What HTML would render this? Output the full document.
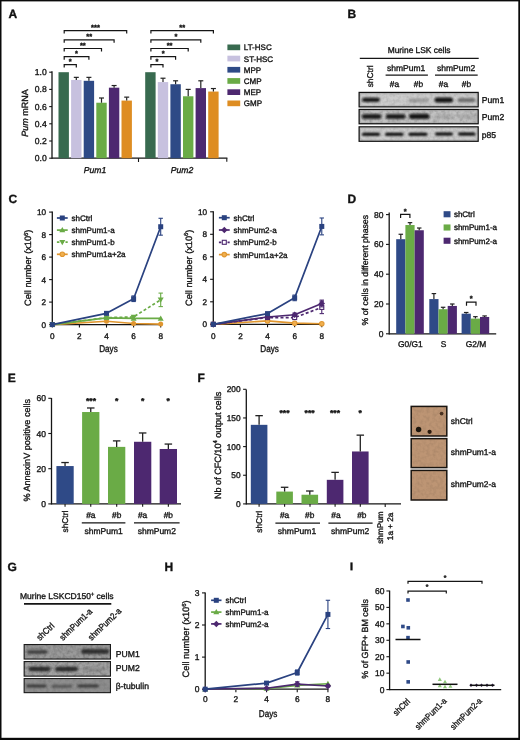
<!DOCTYPE html>
<html><head><meta charset="utf-8"><title>Figure</title>
<style>
html,body{margin:0;padding:0;background:#fff;}
body{width:520px;height:740px;overflow:hidden;}
svg{display:block;font-family:"Liberation Sans", sans-serif;filter:blur(0.35px);}
text{stroke:#151515;stroke-width:0.35px;text-rendering:geometricPrecision;}
</style></head>
<body>
<svg width="520" height="740" viewBox="0 0 520 740">
<defs>
<filter id="blur1" x="-50%" y="-100%" width="200%" height="300%"><feGaussianBlur stdDeviation="1.2"/></filter>
<filter id="blur05" x="-50%" y="-50%" width="200%" height="200%"><feGaussianBlur stdDeviation="0.6"/></filter>
<filter id="grain" x="0" y="0" width="100%" height="100%"><feTurbulence type="fractalNoise" baseFrequency="0.3" numOctaves="2" seed="3"/><feColorMatrix type="matrix" values="0 0 0 0 0  0 0 0 0 0  0 0 0 0 0  -1.6 0 0 0 1.0"/><feGaussianBlur stdDeviation="0.5"/></filter>
</defs>
<rect x="0" y="0" width="520" height="740" fill="#fff"/>
<text x="8.6" y="18.2" font-size="12" text-anchor="start" font-weight="bold" font-style="normal" fill="#111" >A</text>
<line x1="52" y1="71.3" x2="52" y2="158.8" stroke="#151515" stroke-width="1.3" />
<line x1="49.2" y1="158.2" x2="52" y2="158.2" stroke="#151515" stroke-width="1.1" />
<text x="46.8" y="161.2" font-size="8.6" text-anchor="end" font-weight="normal" font-style="normal" fill="#151515" >0.0</text>
<line x1="49.2" y1="141" x2="52" y2="141" stroke="#151515" stroke-width="1.1" />
<text x="46.8" y="144" font-size="8.6" text-anchor="end" font-weight="normal" font-style="normal" fill="#151515" >0.2</text>
<line x1="49.2" y1="123.8" x2="52" y2="123.8" stroke="#151515" stroke-width="1.1" />
<text x="46.8" y="126.8" font-size="8.6" text-anchor="end" font-weight="normal" font-style="normal" fill="#151515" >0.4</text>
<line x1="49.2" y1="106.6" x2="52" y2="106.6" stroke="#151515" stroke-width="1.1" />
<text x="46.8" y="109.6" font-size="8.6" text-anchor="end" font-weight="normal" font-style="normal" fill="#151515" >0.6</text>
<line x1="49.2" y1="89.4" x2="52" y2="89.4" stroke="#151515" stroke-width="1.1" />
<text x="46.8" y="92.4" font-size="8.6" text-anchor="end" font-weight="normal" font-style="normal" fill="#151515" >0.8</text>
<line x1="49.2" y1="72.2" x2="52" y2="72.2" stroke="#151515" stroke-width="1.1" />
<text x="46.8" y="75.2" font-size="8.6" text-anchor="end" font-weight="normal" font-style="normal" fill="#151515" >1.0</text>
<line x1="52" y1="158.2" x2="227.4" y2="158.2" stroke="#151515" stroke-width="1.3" />
<line x1="138.5" y1="158.2" x2="138.5" y2="162" stroke="#151515" stroke-width="1.1" />
<line x1="226.8" y1="158.2" x2="226.8" y2="161.8" stroke="#151515" stroke-width="1.1" />
<text x="0" y="0" font-size="9" text-anchor="middle" fill="#151515" transform="translate(28.24,113) rotate(-90)" ><tspan font-style="italic">Pum</tspan> mRNA</text>
<text x="95" y="172.8" font-size="8.6" text-anchor="middle" font-weight="normal" font-style="italic" fill="#151515" >Pum1</text>
<text x="182" y="172.8" font-size="8.6" text-anchor="middle" font-weight="normal" font-style="italic" fill="#151515" >Pum2</text>
<rect x="58.5" y="72.2" width="10.4" height="86" fill="#386a4f" />
<rect x="71.1" y="79.94" width="10.4" height="78.26" fill="#c7c1df" />
<line x1="76.3" y1="79.94" x2="76.3" y2="77.36" stroke="#222" stroke-width="1.2" />
<line x1="73.8" y1="77.36" x2="78.8" y2="77.36" stroke="#222" stroke-width="1.2" />
<rect x="83.7" y="80.8" width="10.4" height="77.4" fill="#2e4a86" />
<line x1="88.9" y1="80.8" x2="88.9" y2="77.36" stroke="#222" stroke-width="1.2" />
<line x1="86.4" y1="77.36" x2="91.4" y2="77.36" stroke="#222" stroke-width="1.2" />
<rect x="96.3" y="102.73" width="10.4" height="55.47" fill="#6aab46" />
<line x1="101.5" y1="102.73" x2="101.5" y2="98" stroke="#222" stroke-width="1.2" />
<line x1="99" y1="98" x2="104" y2="98" stroke="#222" stroke-width="1.2" />
<rect x="108.9" y="87.68" width="10.4" height="70.52" fill="#4d2870" />
<line x1="114.1" y1="87.68" x2="114.1" y2="85.53" stroke="#222" stroke-width="1.2" />
<line x1="111.6" y1="85.53" x2="116.6" y2="85.53" stroke="#222" stroke-width="1.2" />
<rect x="121.5" y="100.58" width="10.4" height="57.62" fill="#de8d22" />
<line x1="126.7" y1="100.58" x2="126.7" y2="97.14" stroke="#222" stroke-width="1.2" />
<line x1="124.2" y1="97.14" x2="129.2" y2="97.14" stroke="#222" stroke-width="1.2" />
<rect x="145.2" y="72.2" width="10.4" height="86" fill="#386a4f" />
<rect x="157.8" y="82.09" width="10.4" height="76.11" fill="#c7c1df" />
<line x1="163" y1="82.09" x2="163" y2="78.22" stroke="#222" stroke-width="1.2" />
<line x1="160.5" y1="78.22" x2="165.5" y2="78.22" stroke="#222" stroke-width="1.2" />
<rect x="170.4" y="84.24" width="10.4" height="73.96" fill="#2e4a86" />
<line x1="175.6" y1="84.24" x2="175.6" y2="80.8" stroke="#222" stroke-width="1.2" />
<line x1="173.1" y1="80.8" x2="178.1" y2="80.8" stroke="#222" stroke-width="1.2" />
<rect x="183" y="96.28" width="10.4" height="61.92" fill="#6aab46" />
<line x1="188.2" y1="96.28" x2="188.2" y2="89.4" stroke="#222" stroke-width="1.2" />
<line x1="185.7" y1="89.4" x2="190.7" y2="89.4" stroke="#222" stroke-width="1.2" />
<rect x="195.6" y="88.11" width="10.4" height="70.09" fill="#4d2870" />
<line x1="200.8" y1="88.11" x2="200.8" y2="80.8" stroke="#222" stroke-width="1.2" />
<line x1="198.3" y1="80.8" x2="203.3" y2="80.8" stroke="#222" stroke-width="1.2" />
<rect x="208.2" y="91.55" width="10.4" height="66.65" fill="#de8d22" />
<line x1="213.4" y1="91.55" x2="213.4" y2="88.54" stroke="#222" stroke-width="1.2" />
<line x1="210.9" y1="88.54" x2="215.9" y2="88.54" stroke="#222" stroke-width="1.2" />
<polyline points="64.2,67.6 64.2,64.6 76.3,64.6 76.3,67.6" fill="none" stroke="#151515" stroke-width="1.2"/>
<text x="70.25" y="63.8" font-size="7.5" text-anchor="middle" font-weight="bold" font-style="normal" fill="#111" >*</text>
<polyline points="64.2,59.7 64.2,56.7 88.9,56.7 88.9,59.7" fill="none" stroke="#151515" stroke-width="1.2"/>
<text x="76.55" y="55.9" font-size="7.5" text-anchor="middle" font-weight="bold" font-style="normal" fill="#111" >*</text>
<polyline points="64.2,51.5 64.2,48.5 101.5,48.5 101.5,51.5" fill="none" stroke="#151515" stroke-width="1.2"/>
<text x="82.85" y="47.7" font-size="7.5" text-anchor="middle" font-weight="bold" font-style="normal" fill="#111" >**</text>
<polyline points="64.2,42.8 64.2,39.8 114.1,39.8 114.1,42.8" fill="none" stroke="#151515" stroke-width="1.2"/>
<text x="89.15" y="39" font-size="7.5" text-anchor="middle" font-weight="bold" font-style="normal" fill="#111" >**</text>
<polyline points="64.2,33.6 64.2,30.6 126.7,30.6 126.7,33.6" fill="none" stroke="#151515" stroke-width="1.2"/>
<text x="95.45" y="29.8" font-size="7.5" text-anchor="middle" font-weight="bold" font-style="normal" fill="#111" >***</text>
<polyline points="150.9,67.6 150.9,64.6 163,64.6 163,67.6" fill="none" stroke="#151515" stroke-width="1.2"/>
<text x="156.95" y="63.8" font-size="7.5" text-anchor="middle" font-weight="bold" font-style="normal" fill="#111" >*</text>
<polyline points="150.9,59.7 150.9,56.7 175.6,56.7 175.6,59.7" fill="none" stroke="#151515" stroke-width="1.2"/>
<text x="163.25" y="55.9" font-size="7.5" text-anchor="middle" font-weight="bold" font-style="normal" fill="#111" >*</text>
<polyline points="150.9,51.5 150.9,48.5 188.2,48.5 188.2,51.5" fill="none" stroke="#151515" stroke-width="1.2"/>
<text x="169.55" y="47.7" font-size="7.5" text-anchor="middle" font-weight="bold" font-style="normal" fill="#111" >**</text>
<polyline points="150.9,42.8 150.9,39.8 200.8,39.8 200.8,42.8" fill="none" stroke="#151515" stroke-width="1.2"/>
<text x="175.85" y="39" font-size="7.5" text-anchor="middle" font-weight="bold" font-style="normal" fill="#111" >*</text>
<polyline points="150.9,33.6 150.9,30.6 213.4,30.6 213.4,33.6" fill="none" stroke="#151515" stroke-width="1.2"/>
<text x="182.15" y="29.8" font-size="7.5" text-anchor="middle" font-weight="bold" font-style="normal" fill="#111" >**</text>
<rect x="227.4" y="44.5" width="12.8" height="5.7" fill="#386a4f" />
<text x="243.8" y="50.4" font-size="8" text-anchor="start" font-weight="normal" font-style="normal" fill="#151515" >LT-HSC</text>
<rect x="227.4" y="55.7" width="12.8" height="5.7" fill="#c7c1df" />
<text x="243.8" y="61.6" font-size="8" text-anchor="start" font-weight="normal" font-style="normal" fill="#151515" >ST-HSC</text>
<rect x="227.4" y="66.9" width="12.8" height="5.7" fill="#2e4a86" />
<text x="243.8" y="72.8" font-size="8" text-anchor="start" font-weight="normal" font-style="normal" fill="#151515" >MPP</text>
<rect x="227.4" y="78.1" width="12.8" height="5.7" fill="#6aab46" />
<text x="243.8" y="84" font-size="8" text-anchor="start" font-weight="normal" font-style="normal" fill="#151515" >CMP</text>
<rect x="227.4" y="89.3" width="12.8" height="5.7" fill="#4d2870" />
<text x="243.8" y="95.2" font-size="8" text-anchor="start" font-weight="normal" font-style="normal" fill="#151515" >MEP</text>
<rect x="227.4" y="100.5" width="12.8" height="5.7" fill="#de8d22" />
<text x="243.8" y="106.4" font-size="8" text-anchor="start" font-weight="normal" font-style="normal" fill="#151515" >GMP</text>
<text x="347.4" y="17.8" font-size="12" text-anchor="start" font-weight="bold" font-style="normal" fill="#111" >B</text>
<text x="387.7" y="53.4" font-size="8.4" text-anchor="start" font-weight="normal" font-style="normal" fill="#151515" >Murine LSK cells</text>
<line x1="359.8" y1="58.3" x2="478.7" y2="58.3" stroke="#151515" stroke-width="1.3" />
<text x="406.2" y="70.8" font-size="8.5" text-anchor="middle" font-weight="normal" font-style="normal" fill="#151515" >shmPum1</text>
<line x1="385.6" y1="75.2" x2="427.9" y2="75.2" stroke="#151515" stroke-width="1.3" />
<text x="456.1" y="70.8" font-size="8.5" text-anchor="middle" font-weight="normal" font-style="normal" fill="#151515" >shmPum2</text>
<line x1="435" y1="75.2" x2="477.7" y2="75.2" stroke="#151515" stroke-width="1.3" />
<text x="394.5" y="87.2" font-size="8.4" text-anchor="middle" font-weight="normal" font-style="normal" fill="#151515" >#a</text>
<text x="418.5" y="87.2" font-size="8.4" text-anchor="middle" font-weight="normal" font-style="normal" fill="#151515" >#b</text>
<text x="443.5" y="87.2" font-size="8.4" text-anchor="middle" font-weight="normal" font-style="normal" fill="#151515" >#a</text>
<text x="466.5" y="87.2" font-size="8.4" text-anchor="middle" font-weight="normal" font-style="normal" fill="#151515" >#b</text>
<text x="0" y="0" font-size="8.4" text-anchor="middle" fill="#151515" transform="translate(373.42,76.4) rotate(-90)" >shCtrl</text>
<rect x="359.15" y="92.45" width="119" height="14.4" fill="#cdcdcd" stroke="#111" stroke-width="1.3"/>
<rect x="359.8" y="93.1" width="117.7" height="13.1" fill="#000" filter="url(#grain)" opacity="0.14"/>
<rect x="360.4" y="93.7" width="116.5" height="11.9" fill="none" stroke="#a5a5a5" stroke-width="1.2" opacity="0.5"/>
<rect x="362" y="97.7" width="18" height="4.2" rx="2.1" fill="#0d0d0d" opacity="0.95" filter="url(#blur1)"/>
<rect x="408.5" y="98.4" width="20.5" height="4" rx="2" fill="#6a6a6a" opacity="0.5" filter="url(#blur1)"/>
<rect x="434.5" y="97.5" width="18.5" height="5" rx="2.5" fill="#0a0a0a" opacity="0.97" filter="url(#blur1)"/>
<rect x="457.5" y="98.1" width="18" height="4.2" rx="2.1" fill="#404040" opacity="0.65" filter="url(#blur1)"/>
<rect x="359.15" y="109.45" width="119" height="14.3" fill="#c3c3c3" stroke="#111" stroke-width="1.3"/>
<rect x="359.8" y="110.1" width="117.7" height="13" fill="#000" filter="url(#grain)" opacity="0.22"/>
<rect x="360.4" y="110.7" width="116.5" height="11.8" fill="none" stroke="#a0a0a0" stroke-width="1.2" opacity="0.5"/>
<rect x="361.8" y="114" width="19.7" height="5" rx="2.5" fill="#0d0d0d" opacity="0.9" filter="url(#blur1)"/>
<rect x="385.8" y="114" width="19.7" height="5" rx="2.5" fill="#0d0d0d" opacity="0.9" filter="url(#blur1)"/>
<rect x="409" y="113.7" width="20.5" height="5.2" rx="2.6" fill="#0a0a0a" opacity="0.95" filter="url(#blur1)"/>
<rect x="434" y="114.1" width="19" height="5" rx="2.5" fill="#8a8a8a" opacity="0.35" filter="url(#blur1)"/>
<rect x="457" y="114.1" width="19" height="5" rx="2.5" fill="#8a8a8a" opacity="0.35" filter="url(#blur1)"/>
<rect x="359.15" y="126.85" width="119" height="14.4" fill="#cbcbcb" stroke="#111" stroke-width="1.3"/>
<rect x="359.8" y="127.5" width="117.7" height="13.1" fill="#000" filter="url(#grain)" opacity="0.14"/>
<rect x="360.4" y="128.1" width="116.5" height="11.9" fill="none" stroke="#a5a5a5" stroke-width="1.2" opacity="0.5"/>
<rect x="362" y="132.7" width="18" height="3" rx="1.5" fill="#000" opacity="1" filter="url(#blur1)"/>
<rect x="385" y="132.7" width="18.5" height="3" rx="1.5" fill="#000" opacity="1" filter="url(#blur1)"/>
<rect x="408.5" y="132.7" width="19" height="3" rx="1.5" fill="#000" opacity="1" filter="url(#blur1)"/>
<rect x="435" y="132.4" width="18" height="3.2" rx="1.6" fill="#000" opacity="1" filter="url(#blur1)"/>
<rect x="458" y="132.5" width="17.5" height="3" rx="1.5" fill="#000" opacity="1" filter="url(#blur1)"/>
<text x="481.8" y="103" font-size="8.6" text-anchor="start" font-weight="normal" font-style="normal" fill="#151515" >Pum1</text>
<text x="481.8" y="120.2" font-size="8.6" text-anchor="start" font-weight="normal" font-style="normal" fill="#151515" >Pum2</text>
<text x="481.8" y="138" font-size="8.6" text-anchor="start" font-weight="normal" font-style="normal" fill="#151515" >p85</text>
<text x="8.4" y="202.6" font-size="12" text-anchor="start" font-weight="bold" font-style="normal" fill="#111" >C</text>
<line x1="52.3" y1="211.5" x2="52.3" y2="325.2" stroke="#151515" stroke-width="1.3" />
<line x1="49.1" y1="324.6" x2="52.3" y2="324.6" stroke="#151515" stroke-width="1.1" />
<text x="46" y="327.5" font-size="8.2" text-anchor="end" font-weight="normal" font-style="normal" fill="#151515" >0</text>
<line x1="49.1" y1="302.1" x2="52.3" y2="302.1" stroke="#151515" stroke-width="1.1" />
<text x="46" y="305" font-size="8.2" text-anchor="end" font-weight="normal" font-style="normal" fill="#151515" >2</text>
<line x1="49.1" y1="279.6" x2="52.3" y2="279.6" stroke="#151515" stroke-width="1.1" />
<text x="46" y="282.5" font-size="8.2" text-anchor="end" font-weight="normal" font-style="normal" fill="#151515" >4</text>
<line x1="49.1" y1="257.1" x2="52.3" y2="257.1" stroke="#151515" stroke-width="1.1" />
<text x="46" y="260" font-size="8.2" text-anchor="end" font-weight="normal" font-style="normal" fill="#151515" >6</text>
<line x1="49.1" y1="234.6" x2="52.3" y2="234.6" stroke="#151515" stroke-width="1.1" />
<text x="46" y="237.5" font-size="8.2" text-anchor="end" font-weight="normal" font-style="normal" fill="#151515" >8</text>
<line x1="49.1" y1="212.1" x2="52.3" y2="212.1" stroke="#151515" stroke-width="1.1" />
<text x="46" y="215" font-size="8.2" text-anchor="end" font-weight="normal" font-style="normal" fill="#151515" >10</text>
<line x1="52.3" y1="324.6" x2="161.3" y2="324.6" stroke="#151515" stroke-width="1.3" />
<line x1="52.3" y1="324.6" x2="52.3" y2="327.6" stroke="#151515" stroke-width="1.1" />
<text x="52.3" y="338.9" font-size="8.2" text-anchor="middle" font-weight="normal" font-style="normal" fill="#151515" >0</text>
<line x1="79.4" y1="324.6" x2="79.4" y2="327.6" stroke="#151515" stroke-width="1.1" />
<text x="79.4" y="338.9" font-size="8.2" text-anchor="middle" font-weight="normal" font-style="normal" fill="#151515" >2</text>
<line x1="106.5" y1="324.6" x2="106.5" y2="327.6" stroke="#151515" stroke-width="1.1" />
<text x="106.5" y="338.9" font-size="8.2" text-anchor="middle" font-weight="normal" font-style="normal" fill="#151515" >4</text>
<line x1="133.6" y1="324.6" x2="133.6" y2="327.6" stroke="#151515" stroke-width="1.1" />
<text x="133.6" y="338.9" font-size="8.2" text-anchor="middle" font-weight="normal" font-style="normal" fill="#151515" >6</text>
<line x1="160.7" y1="324.6" x2="160.7" y2="327.6" stroke="#151515" stroke-width="1.1" />
<text x="160.7" y="338.9" font-size="8.2" text-anchor="middle" font-weight="normal" font-style="normal" fill="#151515" >8</text>
<text x="108.5" y="352" font-size="9.8" text-anchor="middle" font-weight="normal" font-style="normal" fill="#151515" textLength="18.6" lengthAdjust="spacingAndGlyphs">Days</text>
<text x="0" y="0" font-size="9.2" text-anchor="middle" fill="#151515" transform="translate(31.31,267.8) rotate(-90)" >Cell number (x10<tspan font-size="5.9" dy="-3.4">6</tspan><tspan dy="3.4">)</tspan></text>
<polyline points="52.3,324.6 106.5,321.23 133.6,323.48 160.7,324.04" fill="none" stroke="#e0962f" stroke-width="1.7" stroke-linejoin="round" />
<circle cx="52.3" cy="324.6" r="2.5" fill="#e0962f"/>
<circle cx="106.5" cy="321.23" r="2.5" fill="#e0962f"/>
<circle cx="133.6" cy="323.48" r="2.5" fill="#e0962f"/>
<circle cx="160.7" cy="324.04" r="2.5" fill="#e0962f"/>
<polyline points="52.3,324.6 106.5,317.85 133.6,318.41 160.7,318.41" fill="none" stroke="#6aab46" stroke-width="1.7" stroke-linejoin="round" />
<polygon points="52.3,321.6 49.3,326.85 55.3,326.85" fill="#6aab46"/>
<polygon points="106.5,314.85 103.5,320.1 109.5,320.1" fill="#6aab46"/>
<polygon points="133.6,315.41 130.6,320.66 136.6,320.66" fill="#6aab46"/>
<polygon points="160.7,315.41 157.7,320.66 163.7,320.66" fill="#6aab46"/>
<polyline points="52.3,324.6 106.5,317.62 133.6,316.95 160.7,299.85" fill="none" stroke="#6aab46" stroke-width="1.7" stroke-linejoin="round" stroke-dasharray="3,2.2"/>
<polygon points="52.3,327.6 49.3,322.35 55.3,322.35" fill="#6aab46"/>
<polygon points="106.5,320.62 103.5,315.38 109.5,315.38" fill="#6aab46"/>
<polygon points="133.6,319.95 130.6,314.7 136.6,314.7" fill="#6aab46"/>
<line x1="160.7" y1="293.1" x2="160.7" y2="306.6" stroke="#6aab46" stroke-width="1.1" />
<line x1="158.5" y1="293.1" x2="162.9" y2="293.1" stroke="#6aab46" stroke-width="1.1" />
<line x1="158.5" y1="306.6" x2="162.9" y2="306.6" stroke="#6aab46" stroke-width="1.1" />
<polygon points="160.7,302.85 157.7,297.6 163.7,297.6" fill="#6aab46"/>
<polyline points="52.3,324.6 106.5,313.35 133.6,298.73 160.7,226.73" fill="none" stroke="#2a4280" stroke-width="1.7" stroke-linejoin="round" />
<rect x="49.8" y="322.1" width="5" height="5" fill="#2a4280" />
<line x1="106.5" y1="312.23" x2="106.5" y2="314.48" stroke="#2a4280" stroke-width="1.1" />
<line x1="104.3" y1="312.23" x2="108.7" y2="312.23" stroke="#2a4280" stroke-width="1.1" />
<line x1="104.3" y1="314.48" x2="108.7" y2="314.48" stroke="#2a4280" stroke-width="1.1" />
<rect x="104" y="310.85" width="5" height="5" fill="#2a4280" />
<line x1="133.6" y1="295.91" x2="133.6" y2="301.54" stroke="#2a4280" stroke-width="1.1" />
<line x1="131.4" y1="295.91" x2="135.8" y2="295.91" stroke="#2a4280" stroke-width="1.1" />
<line x1="131.4" y1="301.54" x2="135.8" y2="301.54" stroke="#2a4280" stroke-width="1.1" />
<rect x="131.1" y="296.23" width="5" height="5" fill="#2a4280" />
<line x1="160.7" y1="218.29" x2="160.7" y2="235.16" stroke="#2a4280" stroke-width="1.1" />
<line x1="158.5" y1="218.29" x2="162.9" y2="218.29" stroke="#2a4280" stroke-width="1.1" />
<line x1="158.5" y1="235.16" x2="162.9" y2="235.16" stroke="#2a4280" stroke-width="1.1" />
<rect x="158.2" y="224.23" width="5" height="5" fill="#2a4280" />
<line x1="56.9" y1="218" x2="67.7" y2="218" stroke="#2a4280" stroke-width="1.7" />
<rect x="59.8" y="215.5" width="5" height="5" fill="#2a4280" />
<text x="71.5" y="220.9" font-size="8" text-anchor="start" font-weight="normal" font-style="normal" fill="#151515" >shCtrl</text>
<line x1="56.9" y1="230.1" x2="67.7" y2="230.1" stroke="#6aab46" stroke-width="1.7" />
<polygon points="62.3,227.1 59.3,232.35 65.3,232.35" fill="#6aab46"/>
<text x="71.5" y="233" font-size="8" text-anchor="start" font-weight="normal" font-style="normal" fill="#151515" >shmPum1-a</text>
<line x1="56.9" y1="242.2" x2="67.7" y2="242.2" stroke="#6aab46" stroke-width="1.7" stroke-dasharray="2.5,1.8"/>
<polygon points="62.3,245.2 59.3,239.95 65.3,239.95" fill="#6aab46"/>
<text x="71.5" y="245.1" font-size="8" text-anchor="start" font-weight="normal" font-style="normal" fill="#151515" >shmPum1-b</text>
<line x1="56.9" y1="254.3" x2="67.7" y2="254.3" stroke="#e0962f" stroke-width="1.7" />
<circle cx="62.3" cy="254.3" r="2.25" fill="#f0b050" stroke="#e0962f" stroke-width="1.1"/>
<text x="71.5" y="257.2" font-size="8" text-anchor="start" font-weight="normal" font-style="normal" fill="#151515" >shmPum1a+2a</text>
<line x1="213.3" y1="211.2" x2="213.3" y2="324.9" stroke="#151515" stroke-width="1.3" />
<line x1="210.1" y1="324.3" x2="213.3" y2="324.3" stroke="#151515" stroke-width="1.1" />
<text x="207" y="327.2" font-size="8.2" text-anchor="end" font-weight="normal" font-style="normal" fill="#151515" >0</text>
<line x1="210.1" y1="301.8" x2="213.3" y2="301.8" stroke="#151515" stroke-width="1.1" />
<text x="207" y="304.7" font-size="8.2" text-anchor="end" font-weight="normal" font-style="normal" fill="#151515" >2</text>
<line x1="210.1" y1="279.3" x2="213.3" y2="279.3" stroke="#151515" stroke-width="1.1" />
<text x="207" y="282.2" font-size="8.2" text-anchor="end" font-weight="normal" font-style="normal" fill="#151515" >4</text>
<line x1="210.1" y1="256.8" x2="213.3" y2="256.8" stroke="#151515" stroke-width="1.1" />
<text x="207" y="259.7" font-size="8.2" text-anchor="end" font-weight="normal" font-style="normal" fill="#151515" >6</text>
<line x1="210.1" y1="234.3" x2="213.3" y2="234.3" stroke="#151515" stroke-width="1.1" />
<text x="207" y="237.2" font-size="8.2" text-anchor="end" font-weight="normal" font-style="normal" fill="#151515" >8</text>
<line x1="210.1" y1="211.8" x2="213.3" y2="211.8" stroke="#151515" stroke-width="1.1" />
<text x="207" y="214.7" font-size="8.2" text-anchor="end" font-weight="normal" font-style="normal" fill="#151515" >10</text>
<line x1="213.3" y1="324.3" x2="322.38" y2="324.3" stroke="#151515" stroke-width="1.3" />
<line x1="213.3" y1="324.3" x2="213.3" y2="327.3" stroke="#151515" stroke-width="1.1" />
<text x="213.3" y="338.6" font-size="8.2" text-anchor="middle" font-weight="normal" font-style="normal" fill="#151515" >0</text>
<line x1="240.42" y1="324.3" x2="240.42" y2="327.3" stroke="#151515" stroke-width="1.1" />
<text x="240.42" y="338.6" font-size="8.2" text-anchor="middle" font-weight="normal" font-style="normal" fill="#151515" >2</text>
<line x1="267.54" y1="324.3" x2="267.54" y2="327.3" stroke="#151515" stroke-width="1.1" />
<text x="267.54" y="338.6" font-size="8.2" text-anchor="middle" font-weight="normal" font-style="normal" fill="#151515" >4</text>
<line x1="294.66" y1="324.3" x2="294.66" y2="327.3" stroke="#151515" stroke-width="1.1" />
<text x="294.66" y="338.6" font-size="8.2" text-anchor="middle" font-weight="normal" font-style="normal" fill="#151515" >6</text>
<line x1="321.78" y1="324.3" x2="321.78" y2="327.3" stroke="#151515" stroke-width="1.1" />
<text x="321.78" y="338.6" font-size="8.2" text-anchor="middle" font-weight="normal" font-style="normal" fill="#151515" >8</text>
<text x="269.54" y="352" font-size="9.8" text-anchor="middle" font-weight="normal" font-style="normal" fill="#151515" textLength="18.6" lengthAdjust="spacingAndGlyphs">Days</text>
<text x="0" y="0" font-size="9.2" text-anchor="middle" fill="#151515" transform="translate(191.61,267.8) rotate(-90)" >Cell number (x10<tspan font-size="5.9" dy="-3.4">6</tspan><tspan dy="3.4">)</tspan></text>
<polyline points="213.3,324.3 267.54,320.93 294.66,323.18 321.78,323.74" fill="none" stroke="#e0962f" stroke-width="1.7" stroke-linejoin="round" />
<circle cx="213.3" cy="324.3" r="2.25" fill="#f0b050" stroke="#e0962f" stroke-width="1.1"/>
<circle cx="267.54" cy="320.93" r="2.25" fill="#f0b050" stroke="#e0962f" stroke-width="1.1"/>
<circle cx="294.66" cy="323.18" r="2.25" fill="#f0b050" stroke="#e0962f" stroke-width="1.1"/>
<circle cx="321.78" cy="323.74" r="2.25" fill="#f0b050" stroke="#e0962f" stroke-width="1.1"/>
<polyline points="213.3,324.3 267.54,317.55 294.66,317.55 321.78,307.43" fill="none" stroke="#4d2870" stroke-width="1.7" stroke-linejoin="round" stroke-dasharray="3,2.2"/>
<rect x="211.3" y="322.3" width="4" height="4" fill="white" stroke="#4d2870" stroke-width="1.1"/>
<rect x="265.54" y="315.55" width="4" height="4" fill="white" stroke="#4d2870" stroke-width="1.1"/>
<rect x="292.66" y="315.55" width="4" height="4" fill="white" stroke="#4d2870" stroke-width="1.1"/>
<line x1="321.78" y1="301.24" x2="321.78" y2="313.61" stroke="#4d2870" stroke-width="1.1" />
<line x1="319.58" y1="301.24" x2="323.98" y2="301.24" stroke="#4d2870" stroke-width="1.1" />
<line x1="319.58" y1="313.61" x2="323.98" y2="313.61" stroke="#4d2870" stroke-width="1.1" />
<rect x="319.78" y="305.43" width="4" height="4" fill="white" stroke="#4d2870" stroke-width="1.1"/>
<polyline points="213.3,324.3 267.54,316.99 294.66,314.74 321.78,303.49" fill="none" stroke="#4d2870" stroke-width="1.7" stroke-linejoin="round" />
<polygon points="213.3,321.05 216.55,324.3 213.3,327.55 210.05,324.3" fill="#4d2870"/>
<polygon points="267.54,313.74 270.79,316.99 267.54,320.24 264.29,316.99" fill="#4d2870"/>
<line x1="294.66" y1="313.05" x2="294.66" y2="316.43" stroke="#4d2870" stroke-width="1.1" />
<line x1="292.46" y1="313.05" x2="296.86" y2="313.05" stroke="#4d2870" stroke-width="1.1" />
<line x1="292.46" y1="316.43" x2="296.86" y2="316.43" stroke="#4d2870" stroke-width="1.1" />
<polygon points="294.66,311.49 297.91,314.74 294.66,317.99 291.41,314.74" fill="#4d2870"/>
<line x1="321.78" y1="300.11" x2="321.78" y2="306.86" stroke="#4d2870" stroke-width="1.1" />
<line x1="319.58" y1="300.11" x2="323.98" y2="300.11" stroke="#4d2870" stroke-width="1.1" />
<line x1="319.58" y1="306.86" x2="323.98" y2="306.86" stroke="#4d2870" stroke-width="1.1" />
<polygon points="321.78,300.24 325.03,303.49 321.78,306.74 318.53,303.49" fill="#4d2870"/>
<polyline points="213.3,324.3 267.54,313.61 294.66,297.86 321.78,226.43" fill="none" stroke="#2a4280" stroke-width="1.7" stroke-linejoin="round" />
<rect x="210.8" y="321.8" width="5" height="5" fill="#2a4280" />
<line x1="267.54" y1="312.49" x2="267.54" y2="314.74" stroke="#2a4280" stroke-width="1.1" />
<line x1="265.34" y1="312.49" x2="269.74" y2="312.49" stroke="#2a4280" stroke-width="1.1" />
<line x1="265.34" y1="314.74" x2="269.74" y2="314.74" stroke="#2a4280" stroke-width="1.1" />
<rect x="265.04" y="311.11" width="5" height="5" fill="#2a4280" />
<line x1="294.66" y1="295.05" x2="294.66" y2="300.68" stroke="#2a4280" stroke-width="1.1" />
<line x1="292.46" y1="295.05" x2="296.86" y2="295.05" stroke="#2a4280" stroke-width="1.1" />
<line x1="292.46" y1="300.68" x2="296.86" y2="300.68" stroke="#2a4280" stroke-width="1.1" />
<rect x="292.16" y="295.36" width="5" height="5" fill="#2a4280" />
<line x1="321.78" y1="217.99" x2="321.78" y2="234.86" stroke="#2a4280" stroke-width="1.1" />
<line x1="319.58" y1="217.99" x2="323.98" y2="217.99" stroke="#2a4280" stroke-width="1.1" />
<line x1="319.58" y1="234.86" x2="323.98" y2="234.86" stroke="#2a4280" stroke-width="1.1" />
<rect x="319.28" y="223.93" width="5" height="5" fill="#2a4280" />
<line x1="218.9" y1="217.7" x2="229.7" y2="217.7" stroke="#2a4280" stroke-width="1.7" />
<rect x="221.8" y="215.2" width="5" height="5" fill="#2a4280" />
<text x="233.5" y="220.6" font-size="8" text-anchor="start" font-weight="normal" font-style="normal" fill="#151515" >shCtrl</text>
<line x1="218.9" y1="230" x2="229.7" y2="230" stroke="#4d2870" stroke-width="1.7" />
<polygon points="224.3,226.75 227.55,230 224.3,233.25 221.05,230" fill="#4d2870"/>
<text x="233.5" y="232.9" font-size="8" text-anchor="start" font-weight="normal" font-style="normal" fill="#151515" >shmPum2-a</text>
<line x1="218.9" y1="242.3" x2="229.7" y2="242.3" stroke="#4d2870" stroke-width="1.7" stroke-dasharray="2.5,1.8"/>
<rect x="222.3" y="240.3" width="4" height="4" fill="white" stroke="#4d2870" stroke-width="1.1"/>
<text x="233.5" y="245.2" font-size="8" text-anchor="start" font-weight="normal" font-style="normal" fill="#151515" >shmPum2-b</text>
<line x1="218.9" y1="254.6" x2="229.7" y2="254.6" stroke="#e0962f" stroke-width="1.7" />
<circle cx="224.3" cy="254.6" r="2.25" fill="#f0b050" stroke="#e0962f" stroke-width="1.1"/>
<text x="233.5" y="257.5" font-size="8" text-anchor="start" font-weight="normal" font-style="normal" fill="#151515" >shmPum1a+2a</text>
<text x="347.4" y="202.8" font-size="12" text-anchor="start" font-weight="bold" font-style="normal" fill="#111" >D</text>
<line x1="389.2" y1="212.6" x2="389.2" y2="334.4" stroke="#151515" stroke-width="1.3" />
<line x1="386" y1="333.8" x2="389.2" y2="333.8" stroke="#151515" stroke-width="1.1" />
<text x="383.5" y="336.8" font-size="8.5" text-anchor="end" font-weight="normal" font-style="normal" fill="#151515" >0</text>
<line x1="386" y1="304" x2="389.2" y2="304" stroke="#151515" stroke-width="1.1" />
<text x="383.5" y="307" font-size="8.5" text-anchor="end" font-weight="normal" font-style="normal" fill="#151515" >20</text>
<line x1="386" y1="274.2" x2="389.2" y2="274.2" stroke="#151515" stroke-width="1.1" />
<text x="383.5" y="277.2" font-size="8.5" text-anchor="end" font-weight="normal" font-style="normal" fill="#151515" >40</text>
<line x1="386" y1="244.4" x2="389.2" y2="244.4" stroke="#151515" stroke-width="1.1" />
<text x="383.5" y="247.4" font-size="8.5" text-anchor="end" font-weight="normal" font-style="normal" fill="#151515" >60</text>
<line x1="386" y1="214.6" x2="389.2" y2="214.6" stroke="#151515" stroke-width="1.1" />
<text x="383.5" y="217.6" font-size="8.5" text-anchor="end" font-weight="normal" font-style="normal" fill="#151515" >80</text>
<line x1="389.2" y1="333.8" x2="496.2" y2="333.8" stroke="#151515" stroke-width="1.3" />
<text x="0" y="0" font-size="8.7" text-anchor="middle" fill="#151515" transform="translate(367.93,270.2) rotate(-90)" >% of cells in different phases</text>
<rect x="396.2" y="239.19" width="9.2" height="94.62" fill="#2f4a87" />
<line x1="400.8" y1="239.19" x2="400.8" y2="234.27" stroke="#222" stroke-width="1.2" />
<line x1="398.55" y1="234.27" x2="403.05" y2="234.27" stroke="#222" stroke-width="1.2" />
<rect x="405.4" y="225.03" width="9.2" height="108.77" fill="#6aab46" />
<line x1="410" y1="225.03" x2="410" y2="222.65" stroke="#222" stroke-width="1.2" />
<line x1="407.75" y1="222.65" x2="412.25" y2="222.65" stroke="#222" stroke-width="1.2" />
<rect x="414.6" y="230.25" width="9.2" height="103.56" fill="#4d2870" />
<line x1="419.2" y1="230.25" x2="419.2" y2="228.01" stroke="#222" stroke-width="1.2" />
<line x1="416.95" y1="228.01" x2="421.45" y2="228.01" stroke="#222" stroke-width="1.2" />
<rect x="429.3" y="299.08" width="9.2" height="34.72" fill="#2f4a87" />
<line x1="433.9" y1="299.08" x2="433.9" y2="293.57" stroke="#222" stroke-width="1.2" />
<line x1="431.65" y1="293.57" x2="436.15" y2="293.57" stroke="#222" stroke-width="1.2" />
<rect x="438.5" y="309.22" width="9.2" height="24.58" fill="#6aab46" />
<line x1="443.1" y1="309.22" x2="443.1" y2="307.28" stroke="#222" stroke-width="1.2" />
<line x1="440.85" y1="307.28" x2="445.35" y2="307.28" stroke="#222" stroke-width="1.2" />
<rect x="447.7" y="305.94" width="9.2" height="27.86" fill="#4d2870" />
<line x1="452.3" y1="305.94" x2="452.3" y2="304" stroke="#222" stroke-width="1.2" />
<line x1="450.05" y1="304" x2="454.55" y2="304" stroke="#222" stroke-width="1.2" />
<rect x="461.6" y="313.69" width="9.2" height="20.12" fill="#2f4a87" />
<line x1="466.2" y1="313.69" x2="466.2" y2="312.49" stroke="#222" stroke-width="1.2" />
<line x1="463.95" y1="312.49" x2="468.45" y2="312.49" stroke="#222" stroke-width="1.2" />
<rect x="470.8" y="318.6" width="9.2" height="15.2" fill="#6aab46" />
<line x1="475.4" y1="318.6" x2="475.4" y2="316.67" stroke="#222" stroke-width="1.2" />
<line x1="473.15" y1="316.67" x2="477.65" y2="316.67" stroke="#222" stroke-width="1.2" />
<rect x="480" y="316.96" width="9.2" height="16.84" fill="#4d2870" />
<line x1="484.6" y1="316.96" x2="484.6" y2="315.92" stroke="#222" stroke-width="1.2" />
<line x1="482.35" y1="315.92" x2="486.85" y2="315.92" stroke="#222" stroke-width="1.2" />
<text x="410.4" y="346.8" font-size="8.4" text-anchor="middle" font-weight="normal" font-style="normal" fill="#151515" >G0/G1</text>
<text x="443.5" y="346.8" font-size="8.4" text-anchor="middle" font-weight="normal" font-style="normal" fill="#151515" >S</text>
<text x="476" y="346.8" font-size="8.4" text-anchor="middle" font-weight="normal" font-style="normal" fill="#151515" >G2/M</text>
<polyline points="400.6,217.9 400.6,214.4 409.9,214.4 409.9,217.9" fill="none" stroke="#151515" stroke-width="1.2"/>
<text x="405.2" y="213.6" font-size="7.5" text-anchor="middle" font-weight="bold" font-style="normal" fill="#111" >*</text>
<polyline points="466.5,305.7 466.5,302.2 476,302.2 476,305.7" fill="none" stroke="#151515" stroke-width="1.2"/>
<text x="471.3" y="301.4" font-size="7.5" text-anchor="middle" font-weight="bold" font-style="normal" fill="#111" >*</text>
<rect x="443.6" y="211.2" width="6.9" height="6.1" fill="#2f4a87" />
<text x="453.9" y="217.2" font-size="8" text-anchor="start" font-weight="normal" font-style="normal" fill="#151515" >shCtrl</text>
<rect x="443.6" y="224.45" width="6.9" height="6.1" fill="#6aab46" />
<text x="453.9" y="230.45" font-size="8" text-anchor="start" font-weight="normal" font-style="normal" fill="#151515" >shmPum1-a</text>
<rect x="443.6" y="237.7" width="6.9" height="6.1" fill="#4d2870" />
<text x="453.9" y="243.7" font-size="8" text-anchor="start" font-weight="normal" font-style="normal" fill="#151515" >shmPum2-a</text>
<text x="7.8" y="381.8" font-size="12" text-anchor="start" font-weight="bold" font-style="normal" fill="#111" >E</text>
<line x1="51.5" y1="398" x2="51.5" y2="504.5" stroke="#151515" stroke-width="1.3" />
<line x1="48.3" y1="503.9" x2="51.5" y2="503.9" stroke="#151515" stroke-width="1.1" />
<text x="45.9" y="506.9" font-size="8.5" text-anchor="end" font-weight="normal" font-style="normal" fill="#151515" >0</text>
<line x1="48.3" y1="468.7" x2="51.5" y2="468.7" stroke="#151515" stroke-width="1.1" />
<text x="45.9" y="471.7" font-size="8.5" text-anchor="end" font-weight="normal" font-style="normal" fill="#151515" >20</text>
<line x1="48.3" y1="433.5" x2="51.5" y2="433.5" stroke="#151515" stroke-width="1.1" />
<text x="45.9" y="436.5" font-size="8.5" text-anchor="end" font-weight="normal" font-style="normal" fill="#151515" >40</text>
<line x1="48.3" y1="398.3" x2="51.5" y2="398.3" stroke="#151515" stroke-width="1.1" />
<text x="45.9" y="401.3" font-size="8.5" text-anchor="end" font-weight="normal" font-style="normal" fill="#151515" >60</text>
<line x1="51.5" y1="503.9" x2="181" y2="503.9" stroke="#151515" stroke-width="1.3" />
<text x="0" y="0" font-size="9.05" text-anchor="middle" fill="#151515" transform="translate(30.26,450.3) rotate(-90)" >% AnnexinV positive cells</text>
<rect x="56.4" y="466.06" width="17.3" height="37.84" fill="#2f4a87" />
<line x1="65.05" y1="466.06" x2="65.05" y2="462.54" stroke="#222" stroke-width="1.3" />
<line x1="61.3" y1="462.54" x2="68.8" y2="462.54" stroke="#222" stroke-width="1.3" />
<rect x="82.1" y="412.03" width="17.3" height="91.87" fill="#6aab46" />
<line x1="90.75" y1="412.03" x2="90.75" y2="407.98" stroke="#222" stroke-width="1.3" />
<line x1="87" y1="407.98" x2="94.5" y2="407.98" stroke="#222" stroke-width="1.3" />
<rect x="108" y="446.88" width="17.3" height="57.02" fill="#6aab46" />
<line x1="116.65" y1="446.88" x2="116.65" y2="440.89" stroke="#222" stroke-width="1.3" />
<line x1="112.9" y1="440.89" x2="120.4" y2="440.89" stroke="#222" stroke-width="1.3" />
<rect x="134" y="441.77" width="17.3" height="62.13" fill="#4d2870" />
<line x1="142.65" y1="441.77" x2="142.65" y2="432.97" stroke="#222" stroke-width="1.3" />
<line x1="138.9" y1="432.97" x2="146.4" y2="432.97" stroke="#222" stroke-width="1.3" />
<rect x="159.7" y="448.99" width="17.3" height="54.91" fill="#4d2870" />
<line x1="168.35" y1="448.99" x2="168.35" y2="444.06" stroke="#222" stroke-width="1.3" />
<line x1="164.6" y1="444.06" x2="172.1" y2="444.06" stroke="#222" stroke-width="1.3" />
<text x="91" y="403.65" font-size="8.6" text-anchor="middle" font-weight="bold" font-style="normal" fill="#111" >***</text>
<text x="116.7" y="403.65" font-size="8.6" text-anchor="middle" font-weight="bold" font-style="normal" fill="#111" >*</text>
<text x="142.6" y="403.65" font-size="8.6" text-anchor="middle" font-weight="bold" font-style="normal" fill="#111" >*</text>
<text x="168.3" y="403.65" font-size="8.6" text-anchor="middle" font-weight="bold" font-style="normal" fill="#111" >*</text>
<text x="90.8" y="517.9" font-size="8.4" text-anchor="middle" font-weight="normal" font-style="normal" fill="#151515" >#a</text>
<text x="116.7" y="517.9" font-size="8.4" text-anchor="middle" font-weight="normal" font-style="normal" fill="#151515" >#b</text>
<text x="142.6" y="517.9" font-size="8.4" text-anchor="middle" font-weight="normal" font-style="normal" fill="#151515" >#a</text>
<text x="168.3" y="517.9" font-size="8.4" text-anchor="middle" font-weight="normal" font-style="normal" fill="#151515" >#b</text>
<text x="0" y="0" font-size="8.4" text-anchor="middle" fill="#151515" transform="translate(68.02,521.6) rotate(-90)" >shCtrl</text>
<line x1="65.05" y1="503.9" x2="65.05" y2="506.7" stroke="#151515" stroke-width="1.1" />
<line x1="90.75" y1="503.9" x2="90.75" y2="506.7" stroke="#151515" stroke-width="1.1" />
<line x1="116.7" y1="503.9" x2="116.7" y2="506.7" stroke="#151515" stroke-width="1.1" />
<line x1="142.65" y1="503.9" x2="142.65" y2="506.7" stroke="#151515" stroke-width="1.1" />
<line x1="168.35" y1="503.9" x2="168.35" y2="506.7" stroke="#151515" stroke-width="1.1" />
<line x1="81.8" y1="522.8" x2="125.4" y2="522.8" stroke="#151515" stroke-width="1.3" />
<line x1="134" y1="522.8" x2="179.6" y2="522.8" stroke="#151515" stroke-width="1.3" />
<text x="103.6" y="534.3" font-size="8.5" text-anchor="middle" font-weight="normal" font-style="normal" fill="#151515" >shmPum1</text>
<text x="156.8" y="534.3" font-size="8.5" text-anchor="middle" font-weight="normal" font-style="normal" fill="#151515" >shmPum2</text>
<text x="197.6" y="381.9" font-size="12" text-anchor="start" font-weight="bold" font-style="normal" fill="#111" >F</text>
<line x1="246.3" y1="389.5" x2="246.3" y2="504.5" stroke="#151515" stroke-width="1.3" />
<line x1="243.1" y1="503.9" x2="246.3" y2="503.9" stroke="#151515" stroke-width="1.1" />
<text x="240.5" y="506.9" font-size="8.3" text-anchor="end" font-weight="normal" font-style="normal" fill="#151515" >0</text>
<line x1="243.1" y1="475.25" x2="246.3" y2="475.25" stroke="#151515" stroke-width="1.1" />
<text x="240.5" y="478.25" font-size="8.3" text-anchor="end" font-weight="normal" font-style="normal" fill="#151515" >50</text>
<line x1="243.1" y1="446.6" x2="246.3" y2="446.6" stroke="#151515" stroke-width="1.1" />
<text x="240.5" y="449.6" font-size="8.3" text-anchor="end" font-weight="normal" font-style="normal" fill="#151515" >100</text>
<line x1="243.1" y1="417.95" x2="246.3" y2="417.95" stroke="#151515" stroke-width="1.1" />
<text x="240.5" y="420.95" font-size="8.3" text-anchor="end" font-weight="normal" font-style="normal" fill="#151515" >150</text>
<line x1="243.1" y1="389.3" x2="246.3" y2="389.3" stroke="#151515" stroke-width="1.1" />
<text x="240.5" y="392.3" font-size="8.3" text-anchor="end" font-weight="normal" font-style="normal" fill="#151515" >200</text>
<line x1="246.3" y1="503.9" x2="401" y2="503.9" stroke="#151515" stroke-width="1.3" />
<line x1="385.2" y1="503.9" x2="385.2" y2="506.9" stroke="#151515" stroke-width="1.1" />
<text x="0" y="0" font-size="9.1" text-anchor="middle" fill="#151515" transform="translate(220.58,445.4) rotate(-90)" >Nb of CFC/10<tspan font-size="5.8" dy="-3.2">4</tspan><tspan dy="3.2"> output cells</tspan></text>
<rect x="250.8" y="424.83" width="16.6" height="79.07" fill="#2f4a87" />
<line x1="259.1" y1="424.83" x2="259.1" y2="415.66" stroke="#222" stroke-width="1.3" />
<line x1="255.35" y1="415.66" x2="262.85" y2="415.66" stroke="#222" stroke-width="1.3" />
<rect x="276.3" y="491.58" width="16.6" height="12.32" fill="#6aab46" />
<line x1="284.6" y1="491.58" x2="284.6" y2="487.28" stroke="#222" stroke-width="1.3" />
<line x1="280.85" y1="487.28" x2="288.35" y2="487.28" stroke="#222" stroke-width="1.3" />
<rect x="301.5" y="494.73" width="16.6" height="9.17" fill="#6aab46" />
<line x1="309.8" y1="494.73" x2="309.8" y2="491.01" stroke="#222" stroke-width="1.3" />
<line x1="306.05" y1="491.01" x2="313.55" y2="491.01" stroke="#222" stroke-width="1.3" />
<rect x="326.8" y="479.83" width="16.6" height="24.07" fill="#4d2870" />
<line x1="335.1" y1="479.83" x2="335.1" y2="472.38" stroke="#222" stroke-width="1.3" />
<line x1="331.35" y1="472.38" x2="338.85" y2="472.38" stroke="#222" stroke-width="1.3" />
<rect x="352" y="451.47" width="16.6" height="52.43" fill="#4d2870" />
<line x1="360.3" y1="451.47" x2="360.3" y2="435.14" stroke="#222" stroke-width="1.3" />
<line x1="356.55" y1="435.14" x2="364.05" y2="435.14" stroke="#222" stroke-width="1.3" />
<text x="284.5" y="415.85" font-size="8.6" text-anchor="middle" font-weight="bold" font-style="normal" fill="#111" >***</text>
<text x="309.6" y="415.85" font-size="8.6" text-anchor="middle" font-weight="bold" font-style="normal" fill="#111" >***</text>
<text x="335" y="415.85" font-size="8.6" text-anchor="middle" font-weight="bold" font-style="normal" fill="#111" >***</text>
<text x="360.3" y="415.85" font-size="8.6" text-anchor="middle" font-weight="bold" font-style="normal" fill="#111" >*</text>
<text x="284.6" y="518.3" font-size="8.4" text-anchor="middle" font-weight="normal" font-style="normal" fill="#151515" >#a</text>
<text x="309.7" y="518.3" font-size="8.4" text-anchor="middle" font-weight="normal" font-style="normal" fill="#151515" >#b</text>
<text x="335.9" y="518.3" font-size="8.4" text-anchor="middle" font-weight="normal" font-style="normal" fill="#151515" >#a</text>
<text x="361.8" y="518.3" font-size="8.4" text-anchor="middle" font-weight="normal" font-style="normal" fill="#151515" >#b</text>
<text x="0" y="0" font-size="8.4" text-anchor="middle" fill="#151515" transform="translate(261.82,521.8) rotate(-90)" >shCtrl</text>
<line x1="275.4" y1="523.2" x2="320" y2="523.2" stroke="#151515" stroke-width="1.3" />
<line x1="328.4" y1="523.2" x2="372.6" y2="523.2" stroke="#151515" stroke-width="1.3" />
<text x="297" y="534.4" font-size="8.5" text-anchor="middle" font-weight="normal" font-style="normal" fill="#151515" >shmPum1</text>
<text x="350.1" y="534.4" font-size="8.5" text-anchor="middle" font-weight="normal" font-style="normal" fill="#151515" >shmPum2</text>
<line x1="259.1" y1="503.9" x2="259.1" y2="506.7" stroke="#151515" stroke-width="1.1" />
<line x1="284.6" y1="503.9" x2="284.6" y2="506.7" stroke="#151515" stroke-width="1.1" />
<line x1="310" y1="503.9" x2="310" y2="506.7" stroke="#151515" stroke-width="1.1" />
<line x1="335.1" y1="503.9" x2="335.1" y2="506.7" stroke="#151515" stroke-width="1.1" />
<line x1="360.3" y1="503.9" x2="360.3" y2="506.7" stroke="#151515" stroke-width="1.1" />
<text x="0" y="0" font-size="8.2" text-anchor="middle" fill="#151515" transform="translate(382.75,527.6) rotate(-90)" >shmPum</text>
<text x="0" y="0" font-size="8.2" text-anchor="middle" fill="#151515" transform="translate(393.35,526.4) rotate(-90)" >1a + 2a</text>
<rect x="411.2" y="406.4" width="35.6" height="29.6" fill="#bd9574" stroke="#1a1510" stroke-width="1.5"/>
<rect x="411.9" y="407.1" width="34.2" height="28.2" fill="#4a2a10" filter="url(#grain)" opacity="0.1"/>
<rect x="411.2" y="438.6" width="35.6" height="29" fill="#bd9574" stroke="#1a1510" stroke-width="1.5"/>
<rect x="411.9" y="439.3" width="34.2" height="27.6" fill="#4a2a10" filter="url(#grain)" opacity="0.1"/>
<rect x="411.2" y="470.4" width="35.6" height="29.6" fill="#bd9574" stroke="#1a1510" stroke-width="1.5"/>
<rect x="411.9" y="471.1" width="34.2" height="28.2" fill="#4a2a10" filter="url(#grain)" opacity="0.1"/>
<circle cx="418.6" cy="429.5" r="2.7" fill="#1e130b" filter="url(#blur05)"/>
<circle cx="429.6" cy="431.8" r="2.1" fill="#2a1a10" filter="url(#blur05)"/>
<circle cx="441.6" cy="413.6" r="1.9" fill="#4a3020" filter="url(#blur05)"/>
<text x="450.8" y="423.6" font-size="8.4" text-anchor="start" font-weight="normal" font-style="normal" fill="#151515" >shCtrl</text>
<text x="450.8" y="455.3" font-size="8.4" text-anchor="start" font-weight="normal" font-style="normal" fill="#151515" >shmPum1-a</text>
<text x="450.8" y="486.8" font-size="8.4" text-anchor="start" font-weight="normal" font-style="normal" fill="#151515" >shmPum2-a</text>
<text x="7.4" y="570.8" font-size="12" text-anchor="start" font-weight="bold" font-style="normal" fill="#111" >G</text>
<text x="20" y="598.6" font-size="8.5" text-anchor="start" font-weight="normal" font-style="normal" fill="#151515" >Murine LSKCD150<tspan font-size="5.6" dy="-3">+</tspan><tspan dy="3"> cells</tspan></text>
<line x1="24" y1="603.9" x2="111.3" y2="603.9" stroke="#151515" stroke-width="1.7" />
<text x="0" y="0" font-size="9.0" fill="#151515" textLength="20.8" lengthAdjust="spacingAndGlyphs" transform="translate(40,641) rotate(-44)">shCtrl</text>
<text x="0" y="0" font-size="9.0" fill="#151515" textLength="41.5" lengthAdjust="spacingAndGlyphs" transform="translate(63,641) rotate(-44)">shmPum1-a</text>
<text x="0" y="0" font-size="9.0" fill="#151515" textLength="42.0" lengthAdjust="spacingAndGlyphs" transform="translate(91.6,641) rotate(-44)">shmPum2-a</text>
<rect x="24.15" y="644.55" width="86.3" height="14.5" fill="#9a9a9a" stroke="#1a1a1a" stroke-width="1.1"/>
<rect x="24.7" y="645.1" width="85.2" height="13.4" fill="#000" filter="url(#grain)" opacity="0.25"/>
<rect x="27" y="649.9" width="20.5" height="4.2" rx="2.1" fill="#2a2a2a" opacity="0.75" filter="url(#blur1)"/>
<rect x="81" y="649.1" width="28" height="5" rx="2.5" fill="#1a1a1a" opacity="0.82" filter="url(#blur1)"/>
<rect x="24.15" y="661.55" width="86.3" height="14.6" fill="#a2a2a2" stroke="#1a1a1a" stroke-width="1.1"/>
<rect x="24.7" y="662.1" width="85.2" height="13.5" fill="#000" filter="url(#grain)" opacity="0.28"/>
<rect x="28.5" y="666.7" width="22" height="4.6" rx="2.3" fill="#141414" opacity="0.85" filter="url(#blur1)"/>
<rect x="55" y="666.7" width="23" height="4.6" rx="2.3" fill="#141414" opacity="0.85" filter="url(#blur1)"/>
<rect x="82" y="667" width="24" height="4" rx="2" fill="#666" opacity="0.3" filter="url(#blur1)"/>
<rect x="24.15" y="678.55" width="86.3" height="14.1" fill="#8e8e8e" stroke="#1a1a1a" stroke-width="1.1"/>
<rect x="24.7" y="679.1" width="85.2" height="13" fill="#000" filter="url(#grain)" opacity="0.12"/>
<rect x="26.5" y="684.7" width="20" height="2.6" rx="1.3" fill="#1e1e1e" opacity="0.85" filter="url(#blur1)"/>
<rect x="51.5" y="685.25" width="20.5" height="2.3" rx="1.15" fill="#2a2a2a" opacity="0.7" filter="url(#blur1)"/>
<rect x="77.5" y="684.7" width="21.5" height="2.6" rx="1.3" fill="#1e1e1e" opacity="0.85" filter="url(#blur1)"/>
<text x="115.8" y="656.8" font-size="8.6" text-anchor="start" font-weight="normal" font-style="normal" fill="#151515" >PUM1</text>
<text x="115.8" y="671.2" font-size="8.6" text-anchor="start" font-weight="normal" font-style="normal" fill="#151515" >PUM2</text>
<text x="115.8" y="689.2" font-size="8.6" text-anchor="start" font-weight="normal" font-style="normal" fill="#151515" >β-tubulin</text>
<text x="164.6" y="570.6" font-size="12" text-anchor="start" font-weight="bold" font-style="normal" fill="#111" >H</text>
<line x1="205.2" y1="592.5" x2="205.2" y2="689.8" stroke="#151515" stroke-width="1.3" />
<line x1="202" y1="689.2" x2="205.2" y2="689.2" stroke="#151515" stroke-width="1.1" />
<text x="199.4" y="692.2" font-size="8.5" text-anchor="end" font-weight="normal" font-style="normal" fill="#151515" >0</text>
<line x1="202" y1="657.1" x2="205.2" y2="657.1" stroke="#151515" stroke-width="1.1" />
<text x="199.4" y="660.1" font-size="8.5" text-anchor="end" font-weight="normal" font-style="normal" fill="#151515" >1</text>
<line x1="202" y1="625" x2="205.2" y2="625" stroke="#151515" stroke-width="1.1" />
<text x="199.4" y="628" font-size="8.5" text-anchor="end" font-weight="normal" font-style="normal" fill="#151515" >2</text>
<line x1="202" y1="592.9" x2="205.2" y2="592.9" stroke="#151515" stroke-width="1.1" />
<text x="199.4" y="595.9" font-size="8.5" text-anchor="end" font-weight="normal" font-style="normal" fill="#151515" >3</text>
<line x1="205.2" y1="689.2" x2="328.52" y2="689.2" stroke="#151515" stroke-width="1.3" />
<line x1="205.2" y1="689.2" x2="205.2" y2="692.2" stroke="#151515" stroke-width="1.1" />
<text x="205.2" y="701.8" font-size="8.3" text-anchor="middle" font-weight="normal" font-style="normal" fill="#151515" >0</text>
<line x1="235.88" y1="689.2" x2="235.88" y2="692.2" stroke="#151515" stroke-width="1.1" />
<text x="235.88" y="701.8" font-size="8.3" text-anchor="middle" font-weight="normal" font-style="normal" fill="#151515" >2</text>
<line x1="266.56" y1="689.2" x2="266.56" y2="692.2" stroke="#151515" stroke-width="1.1" />
<text x="266.56" y="701.8" font-size="8.3" text-anchor="middle" font-weight="normal" font-style="normal" fill="#151515" >4</text>
<line x1="297.24" y1="689.2" x2="297.24" y2="692.2" stroke="#151515" stroke-width="1.1" />
<text x="297.24" y="701.8" font-size="8.3" text-anchor="middle" font-weight="normal" font-style="normal" fill="#151515" >6</text>
<line x1="327.92" y1="689.2" x2="327.92" y2="692.2" stroke="#151515" stroke-width="1.1" />
<text x="327.92" y="701.8" font-size="8.3" text-anchor="middle" font-weight="normal" font-style="normal" fill="#151515" >8</text>
<text x="268.16" y="716.8" font-size="9.8" text-anchor="middle" font-weight="normal" font-style="normal" fill="#151515" textLength="18.6" lengthAdjust="spacingAndGlyphs">Days</text>
<text x="0" y="0" font-size="9.3" text-anchor="middle" fill="#151515" transform="translate(188.95,638.9) rotate(-90)" >Cell number (x10<tspan font-size="5.9" dy="-3.4">6</tspan><tspan dy="3.4">)</tspan></text>
<polyline points="205.2,689.2 266.56,688.56 297.24,685.35 327.92,683.74" fill="none" stroke="#6aab46" stroke-width="1.7" stroke-linejoin="round" />
<polygon points="205.2,686.2 202.2,691.45 208.2,691.45" fill="#6aab46"/>
<polygon points="266.56,685.56 263.56,690.81 269.56,690.81" fill="#6aab46"/>
<line x1="297.24" y1="684.39" x2="297.24" y2="686.31" stroke="#6aab46" stroke-width="1.1" />
<line x1="295.04" y1="684.39" x2="299.44" y2="684.39" stroke="#6aab46" stroke-width="1.1" />
<line x1="295.04" y1="686.31" x2="299.44" y2="686.31" stroke="#6aab46" stroke-width="1.1" />
<polygon points="297.24,682.35 294.24,687.6 300.24,687.6" fill="#6aab46"/>
<polygon points="327.92,680.74 324.92,685.99 330.92,685.99" fill="#6aab46"/>
<polyline points="205.2,689.2 266.56,688.24 297.24,684.06 327.92,685.99" fill="none" stroke="#4d2870" stroke-width="1.7" stroke-linejoin="round" />
<polygon points="205.2,685.95 208.45,689.2 205.2,692.45 201.95,689.2" fill="#4d2870"/>
<polygon points="266.56,684.99 269.81,688.24 266.56,691.49 263.31,688.24" fill="#4d2870"/>
<line x1="297.24" y1="681.82" x2="297.24" y2="686.31" stroke="#4d2870" stroke-width="1.1" />
<line x1="295.04" y1="681.82" x2="299.44" y2="681.82" stroke="#4d2870" stroke-width="1.1" />
<line x1="295.04" y1="686.31" x2="299.44" y2="686.31" stroke="#4d2870" stroke-width="1.1" />
<polygon points="297.24,680.81 300.49,684.06 297.24,687.31 293.99,684.06" fill="#4d2870"/>
<line x1="327.92" y1="685.03" x2="327.92" y2="686.95" stroke="#4d2870" stroke-width="1.1" />
<line x1="325.72" y1="685.03" x2="330.12" y2="685.03" stroke="#4d2870" stroke-width="1.1" />
<line x1="325.72" y1="686.95" x2="330.12" y2="686.95" stroke="#4d2870" stroke-width="1.1" />
<polygon points="327.92,682.74 331.17,685.99 327.92,689.24 324.67,685.99" fill="#4d2870"/>
<polyline points="205.2,689.2 266.56,683.1 297.24,672.51 327.92,614.41" fill="none" stroke="#2a4280" stroke-width="1.7" stroke-linejoin="round" />
<rect x="202.7" y="686.7" width="5" height="5" fill="#2a4280" />
<line x1="266.56" y1="681.82" x2="266.56" y2="684.38" stroke="#2a4280" stroke-width="1.1" />
<line x1="264.36" y1="681.82" x2="268.76" y2="681.82" stroke="#2a4280" stroke-width="1.1" />
<line x1="264.36" y1="684.38" x2="268.76" y2="684.38" stroke="#2a4280" stroke-width="1.1" />
<rect x="264.06" y="680.6" width="5" height="5" fill="#2a4280" />
<line x1="297.24" y1="669.94" x2="297.24" y2="675.08" stroke="#2a4280" stroke-width="1.1" />
<line x1="295.04" y1="669.94" x2="299.44" y2="669.94" stroke="#2a4280" stroke-width="1.1" />
<line x1="295.04" y1="675.08" x2="299.44" y2="675.08" stroke="#2a4280" stroke-width="1.1" />
<rect x="294.74" y="670.01" width="5" height="5" fill="#2a4280" />
<line x1="327.92" y1="600.28" x2="327.92" y2="628.53" stroke="#2a4280" stroke-width="1.1" />
<line x1="325.72" y1="600.28" x2="330.12" y2="600.28" stroke="#2a4280" stroke-width="1.1" />
<line x1="325.72" y1="628.53" x2="330.12" y2="628.53" stroke="#2a4280" stroke-width="1.1" />
<rect x="325.42" y="611.91" width="5" height="5" fill="#2a4280" />
<line x1="211.1" y1="600.3" x2="221.5" y2="600.3" stroke="#2a4280" stroke-width="1.7" />
<rect x="213.8" y="597.8" width="5" height="5" fill="#2a4280" />
<text x="225.4" y="603.2" font-size="8" text-anchor="start" font-weight="normal" font-style="normal" fill="#151515" >shCtrl</text>
<line x1="211.1" y1="612.1" x2="221.5" y2="612.1" stroke="#6aab46" stroke-width="1.7" />
<polygon points="216.3,609.1 213.3,614.35 219.3,614.35" fill="#6aab46"/>
<text x="225.4" y="615" font-size="8" text-anchor="start" font-weight="normal" font-style="normal" fill="#151515" >shmPum1-a</text>
<line x1="211.1" y1="623.9" x2="221.5" y2="623.9" stroke="#4d2870" stroke-width="1.7" />
<polygon points="216.3,620.65 219.55,623.9 216.3,627.15 213.05,623.9" fill="#4d2870"/>
<text x="225.4" y="626.8" font-size="8" text-anchor="start" font-weight="normal" font-style="normal" fill="#151515" >shmPum2-a</text>
<rect x="350.4" y="562.4" width="2.2" height="8.0" fill="#111"/>
<line x1="389.6" y1="590.6" x2="389.6" y2="690.2" stroke="#151515" stroke-width="1.3" />
<line x1="386.4" y1="689.6" x2="389.6" y2="689.6" stroke="#151515" stroke-width="1.1" />
<text x="384.4" y="692.6" font-size="8.5" text-anchor="end" font-weight="normal" font-style="normal" fill="#151515" >0</text>
<line x1="386.4" y1="673.16" x2="389.6" y2="673.16" stroke="#151515" stroke-width="1.1" />
<text x="384.4" y="676.16" font-size="8.5" text-anchor="end" font-weight="normal" font-style="normal" fill="#151515" >10</text>
<line x1="386.4" y1="656.72" x2="389.6" y2="656.72" stroke="#151515" stroke-width="1.1" />
<text x="384.4" y="659.72" font-size="8.5" text-anchor="end" font-weight="normal" font-style="normal" fill="#151515" >20</text>
<line x1="386.4" y1="640.28" x2="389.6" y2="640.28" stroke="#151515" stroke-width="1.1" />
<text x="384.4" y="643.28" font-size="8.5" text-anchor="end" font-weight="normal" font-style="normal" fill="#151515" >30</text>
<line x1="386.4" y1="623.84" x2="389.6" y2="623.84" stroke="#151515" stroke-width="1.1" />
<text x="384.4" y="626.84" font-size="8.5" text-anchor="end" font-weight="normal" font-style="normal" fill="#151515" >40</text>
<line x1="386.4" y1="607.4" x2="389.6" y2="607.4" stroke="#151515" stroke-width="1.1" />
<text x="384.4" y="610.4" font-size="8.5" text-anchor="end" font-weight="normal" font-style="normal" fill="#151515" >50</text>
<line x1="386.4" y1="590.96" x2="389.6" y2="590.96" stroke="#151515" stroke-width="1.1" />
<text x="384.4" y="593.96" font-size="8.5" text-anchor="end" font-weight="normal" font-style="normal" fill="#151515" >60</text>
<line x1="389.6" y1="689.6" x2="501.2" y2="689.6" stroke="#151515" stroke-width="1.3" />
<text x="0" y="0" font-size="8.9" text-anchor="middle" fill="#151515" transform="translate(368,638.8) rotate(-90)" >% of GFP+ BM cells</text>
<polyline points="408,583.7 408,581.3 482,581.3 482,583.7" fill="none" stroke="#151515" stroke-width="1.2"/>
<text x="445" y="579.59" font-size="6.8" text-anchor="middle" font-weight="bold" font-style="normal" fill="#111" >*</text>
<polyline points="408,593.6 408,591.2 446.3,591.2 446.3,593.6" fill="none" stroke="#151515" stroke-width="1.2"/>
<text x="427" y="589.49" font-size="6.8" text-anchor="middle" font-weight="bold" font-style="normal" fill="#111" >*</text>
<rect x="406.2" y="598.2" width="3.6" height="3.6" fill="#2f4a87" />
<rect x="401.1" y="624.67" width="3.6" height="3.6" fill="#2f4a87" />
<rect x="406.5" y="625.99" width="3.6" height="3.6" fill="#2f4a87" />
<rect x="406.2" y="635.85" width="3.6" height="3.6" fill="#2f4a87" />
<rect x="406.4" y="660.18" width="3.6" height="3.6" fill="#2f4a87" />
<rect x="406.4" y="680.07" width="3.6" height="3.6" fill="#2f4a87" />
<line x1="395.5" y1="639.5" x2="420.5" y2="639.5" stroke="#111" stroke-width="1.5" />
<polygon points="439.8,677.36 437.76,680.93 441.84,680.93" fill="#8fc77c"/>
<polygon points="445,679.76 442.96,683.33 447.04,683.33" fill="#8fc77c"/>
<polygon points="439.8,683.56 437.76,687.13 441.84,687.13" fill="#8fc77c"/>
<polygon points="445,684.66 442.96,688.23 447.04,688.23" fill="#8fc77c"/>
<polygon points="450.4,684.26 448.36,687.83 452.44,687.83" fill="#8fc77c"/>
<line x1="432.5" y1="684.3" x2="457.5" y2="684.3" stroke="#111" stroke-width="1.5" />
<polygon points="471,683.61 472.69,685.3 471,686.99 469.31,685.3" fill="#35234d"/>
<polygon points="476.5,683.61 478.19,685.3 476.5,686.99 474.81,685.3" fill="#35234d"/>
<polygon points="481.5,683.61 483.19,685.3 481.5,686.99 479.81,685.3" fill="#35234d"/>
<polygon points="487,683.61 488.69,685.3 487,686.99 485.31,685.3" fill="#35234d"/>
<polygon points="492.5,683.61 494.19,685.3 492.5,686.99 490.81,685.3" fill="#35234d"/>
<line x1="470" y1="685.3" x2="494.5" y2="685.3" stroke="#111" stroke-width="1.5" />
<text x="0" y="0" font-size="8.8" fill="#151515" textLength="20.0" lengthAdjust="spacingAndGlyphs" transform="translate(396.6,716.2) rotate(-45)">shCtrl</text>
<text x="0" y="0" font-size="8.8" fill="#151515" textLength="40.5" lengthAdjust="spacingAndGlyphs" transform="translate(418.6,730.2) rotate(-45)">shmPum1-a</text>
<text x="0" y="0" font-size="8.8" fill="#151515" textLength="40.5" lengthAdjust="spacingAndGlyphs" transform="translate(453.8,730.2) rotate(-45)">shmPum2-a</text>
<rect x="0" y="0" width="1.5" height="740" fill="#0a0a0a"/>
<rect x="0" y="0" width="520" height="1.4" fill="#0a0a0a"/>
<rect x="518.3" y="0" width="1.7" height="740" fill="#0a0a0a"/>
<rect x="0" y="737.8" width="520" height="2.2" fill="#0a0a0a"/>
</svg>
</body></html>
